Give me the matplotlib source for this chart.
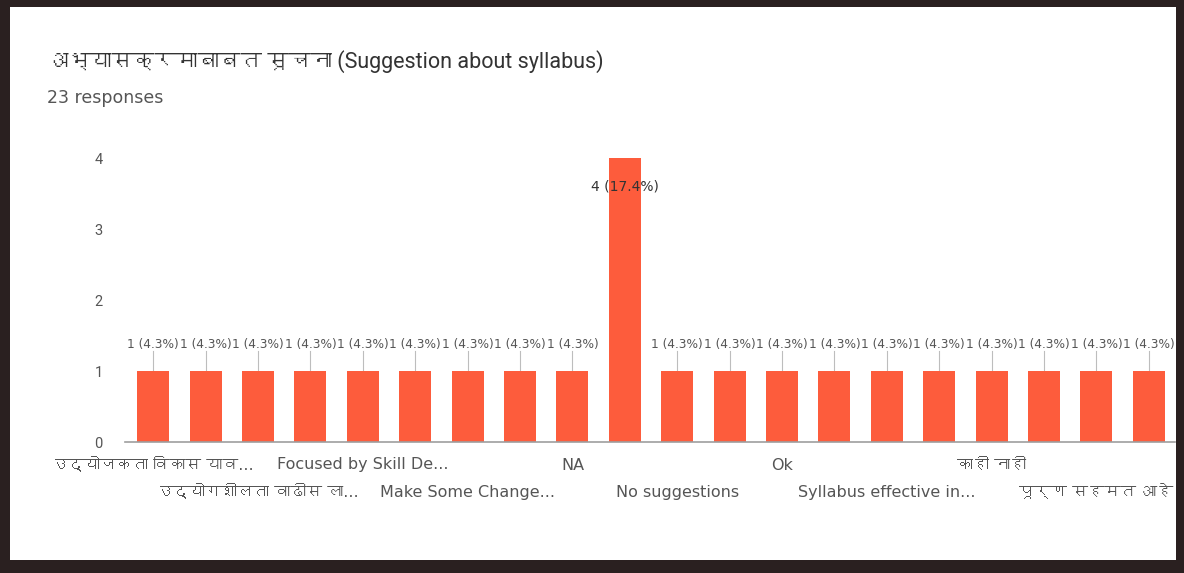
import matplotlib
matplotlib.use("Agg")
import matplotlib.pyplot as plt
from matplotlib import font_manager
from matplotlib.ft2font import FT2Font
from matplotlib.patches import Rectangle

title = "अभ्यासक्रमाबाबत सूचना (Suggestion about syllabus)"
subtitle = "23 responses"

categories = [
    "उद्योजकता विकास याव...", "Add more practicals", "उद्योगशीलता वाढीस ला...",
    "Good", "Focused by Skill De...", "Industrial visit", "Make Some Change...",
    "More practical", "NA", "No", "No suggestions", "Nothing", "Ok",
    "Practical based", "Syllabus effective in...", "Update syllabus",
    "काही नाही", "चांगला आहे", "पूर्ण सहमत आहे", "सर्व ठीक आहे",
]
counts = [1, 1, 1, 1, 1, 1, 1, 1, 1, 4, 1, 1, 1, 1, 1, 1, 1, 1, 1, 1]
total = 23
yticks = [0, 1, 2, 3, 4]

BAR = "#fd5c3c"
FRAME = "#2a2020"


def find_devanagari():
    for f in font_manager.fontManager.ttflist:
        try:
            if 0x0915 in FT2Font(f.fname).get_charmap():
                return f.name
        except Exception:
            pass
    return None


deva = find_devanagari()
extra = [deva] if deva else []
plt.rcParams["font.family"] = ["Roboto"] + extra + ["DejaVu Sans"]
wide = ["DejaVu Sans"] + extra

W, H = 1184, 573
fig = plt.figure(figsize=(W / 100, H / 100), dpi=100, facecolor=FRAME)
# white card inside the dark scanned frame
fig.patches.append(Rectangle((10 / W, 13 / H), 1166 / W, 553 / H,
                             transform=fig.transFigure, facecolor="white",
                             edgecolor="none", zorder=-5))

fig.text(47 / W, 1 - 62 / H, title, fontsize=15.5, color="#333333", va="center")
fig.text(47 / W, 1 - 98 / H, subtitle, fontsize=12.5, color="#555555",
         va="center", family=wide)

ax = fig.add_axes([125 / W, 1 - 442 / H, 1050 / W, 298 / H])
ax.set_zorder(2)
ax.set_facecolor("none")
x = list(range(len(categories)))
ax.bar(x, counts, width=0.61, color=BAR, zorder=2)
ax.set_xlim(-0.54, 19.5)
ax.set_ylim(0, 4.2)

for s in ["top", "right", "left"]:
    ax.spines[s].set_visible(False)
ax.spines["bottom"].set_color("#9e9e9e")
ax.spines["bottom"].set_linewidth(1.2)

ax.set_yticks(yticks)
ax.tick_params(axis="y", length=0, pad=16, labelsize=10.5, labelcolor="#555555")
ax.set_xticks([])

# value labels (crowded, as in the Google Forms chart)
for xi, c in zip(x, counts):
    lab = f"{c} ({c / total * 100:.1f}%)"
    if c == max(counts):
        ax.text(xi, c - 0.4, lab, ha="center", va="center", fontsize=10,
                color="#333333", zorder=3, family=wide)
    else:
        ax.text(xi, c + 0.38, lab, ha="center", va="center", fontsize=8.7,
                color="#555555", zorder=3, family=wide)
        ax.plot([xi, xi], [c, c + 0.28], color="#bdbdbd", lw=0.8, zorder=1)

# staggered category labels, every other one shown
for i in range(0, len(categories), 2):
    row = (i // 2) % 2
    ax.annotate(categories[i], xy=(i, 0), xycoords="data",
                xytext=(0, -23 - 27 * row), textcoords="offset pixels",
                ha="center", va="center", fontsize=11.5, color="#555555",
                family=wide, annotation_clip=False)

fig.savefig("out.png", dpi=100, facecolor=FRAME)
